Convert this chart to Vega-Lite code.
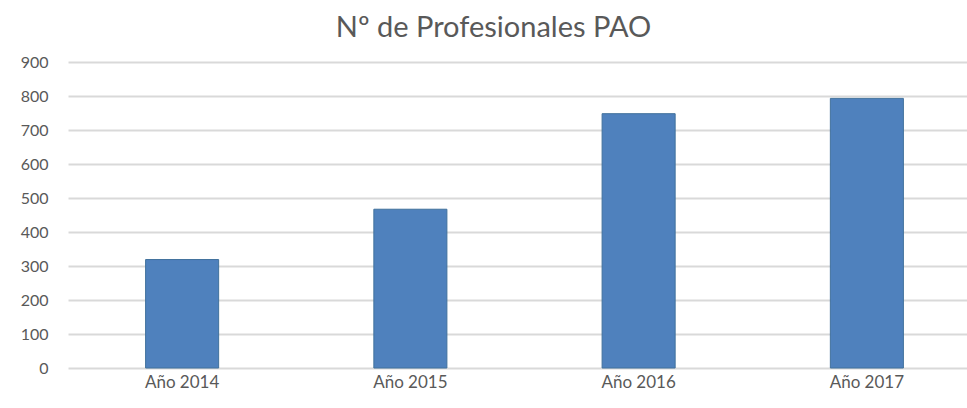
{
  "$schema": "https://vega.github.io/schema/vega-lite/v6.json",
  "autosize": "none",
  "width": 913,
  "height": 306,
  "padding": {"left": 68, "top": 62, "right": 0, "bottom": 40},
  "background": "white",
  "title": {
    "text": "Nº de Profesionales PAO",
    "font": "Lato",
    "fontSize": 29,
    "fontWeight": "normal",
    "color": "#595959",
    "anchor": "middle",
    "dx": -31,
    "offset": 11
  },
  "data": {
    "values": [
      {"year": "Año 2014", "value": 319},
      {"year": "Año 2015", "value": 467},
      {"year": "Año 2016", "value": 748},
      {"year": "Año 2017", "value": 793}
    ]
  },
  "mark": {"type": "bar", "color": "#4f81bd", "stroke": "#41719c", "strokeWidth": 1},
  "encoding": {
    "x": {
      "field": "year",
      "type": "nominal",
      "sort": null,
      "title": null,
      "scale": {"paddingInner": 0.68, "paddingOuter": 0.34},
      "axis": {
        "labelAngle": 0,
        "domain": false,
        "ticks": false,
        "labelFont": "Lato",
        "labelFontSize": 17,
        "labelColor": "#595959",
        "labelPadding": 6
      }
    },
    "y": {
      "field": "value",
      "type": "quantitative",
      "title": null,
      "scale": {"domain": [0, 900]},
      "axis": {
        "values": [0, 100, 200, 300, 400, 500, 600, 700, 800, 900],
        "domain": false,
        "ticks": false,
        "labelFont": "Lato",
        "labelFontSize": 16,
        "labelColor": "#595959",
        "labelPadding": 20,
        "gridColor": "#d9d9d9",
        "gridWidth": 2
      }
    }
  },
  "config": {"view": {"stroke": null}}
}
